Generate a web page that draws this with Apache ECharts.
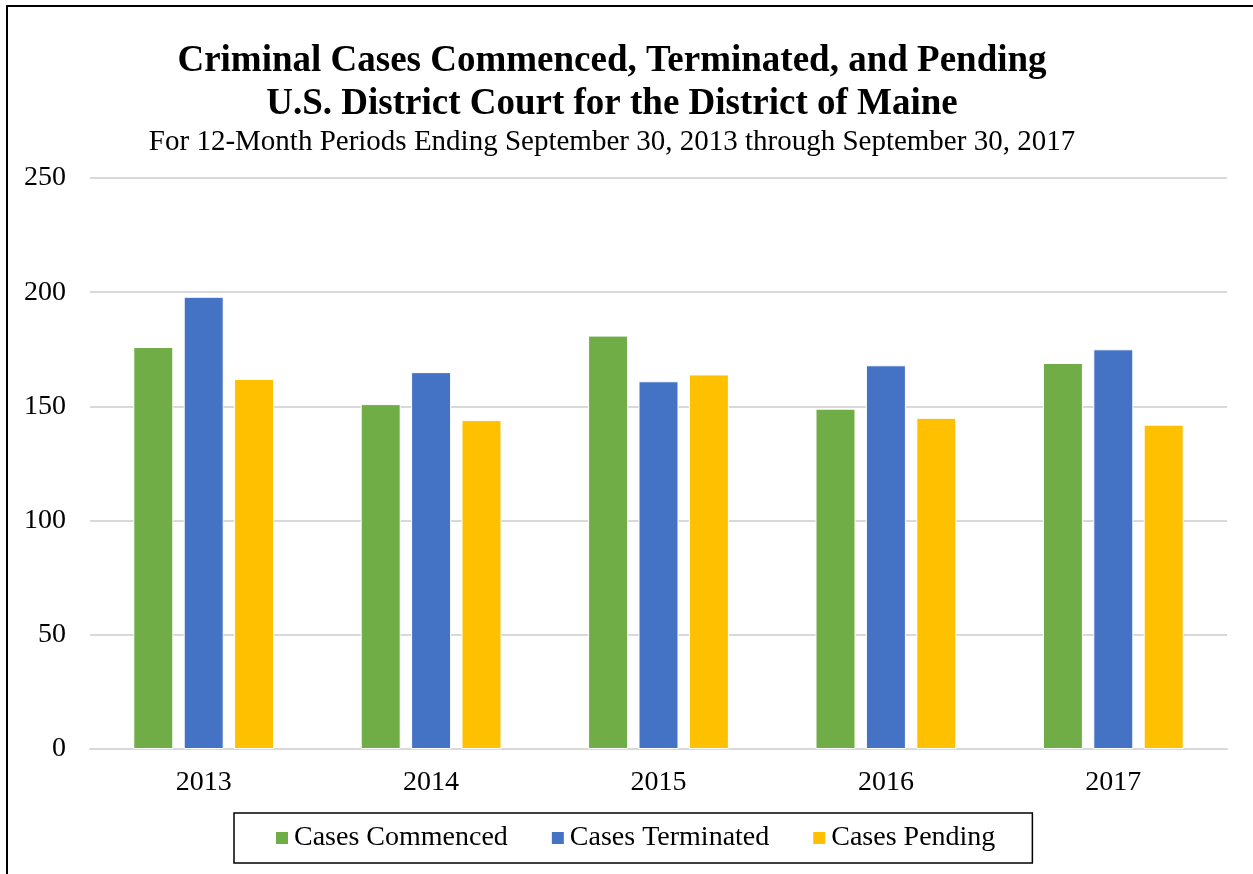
<!DOCTYPE html>
<html>
<head>
<meta charset="utf-8">
<script src="https://cdn.jsdelivr.net/npm/echarts@6/dist/echarts.min.js"></script>
<style>
html,body{margin:0;padding:0;background:#fff;}
#chart{width:1253px;height:874px;}
</style>
</head>
<body>
<div id="chart"></div>
<script>
const categories = ['2013', '2014', '2015', '2016', '2017'];
const commenced = [176, 151, 181, 149, 169];
const terminated = [198, 165, 161, 168, 175];
const pending = [162, 144, 164, 145, 142];
const yTicks = {min: 0, max: 250, interval: 50};

const font = '"Liberation Serif", "Times New Roman", serif';
const chart = echarts.init(document.getElementById('chart'));
const barStyle = c => ({color: c, borderColor: '#ffffff', borderWidth: 1});
chart.setOption({
  backgroundColor: '#fff',
  animation: false,
  textStyle: {fontFamily: font},
  graphic: [{
    type: 'rect', z: 100,
    shape: {x: 7, y: 6, width: 1400, height: 1000},
    style: {fill: 'none', stroke: '#000', lineWidth: 2}
  }],
  title: [{
    text: 'Criminal Cases Commenced, Terminated, and Pending\nU.S. District Court for the District of Maine',
    left: 607, top: 35, textAlign: 'center',
    textStyle: {fontFamily: font, fontSize: 37, fontWeight: 'bold', color: '#000', lineHeight: 43}
  }, {
    text: 'For 12-Month Periods Ending September 30, 2013 through September 30, 2017',
    left: 607, top: 123, textAlign: 'center',
    textStyle: {fontFamily: font, fontSize: 29, fontWeight: 'normal', color: '#000'}
  }],
  legend: {
    left: 234, top: 813,
    padding: [11, 37, 11, 40],
    itemGap: 42,
    itemWidth: 14, itemHeight: 14,
    borderColor: '#000', borderWidth: 1.5,
    icon: 'rect',
    textStyle: {fontFamily: font, fontSize: 28, color: '#000'},
    data: ['Cases Commenced', 'Cases Terminated', 'Cases Pending']
  },
  grid: {left: 90, right: 26, top: 178, bottom: 125},
  xAxis: {
    type: 'category', data: categories,
    axisTick: {show: false},
    axisLine: {lineStyle: {color: '#D9D9D9', width: 2}},
    axisLabel: {fontFamily: font, fontSize: 28, color: '#000', margin: 20}
  },
  yAxis: {
    type: 'value', min: yTicks.min, max: yTicks.max, interval: yTicks.interval,
    axisLine: {show: false}, axisTick: {show: false},
    splitLine: {lineStyle: {color: '#D9D9D9', width: 2}},
    axisLabel: {fontFamily: font, fontSize: 28, color: '#000', margin: 24}
  },
  series: [
    {name: 'Cases Commenced', type: 'bar', data: commenced, barWidth: 40, barGap: '26%', itemStyle: barStyle('#70AD47')},
    {name: 'Cases Terminated', type: 'bar', data: terminated, barWidth: 40, barGap: '26%', itemStyle: barStyle('#4472C4')},
    {name: 'Cases Pending', type: 'bar', data: pending, barWidth: 40, barGap: '26%', itemStyle: barStyle('#FFC000')}
  ]
});
</script>
</body>
</html>
